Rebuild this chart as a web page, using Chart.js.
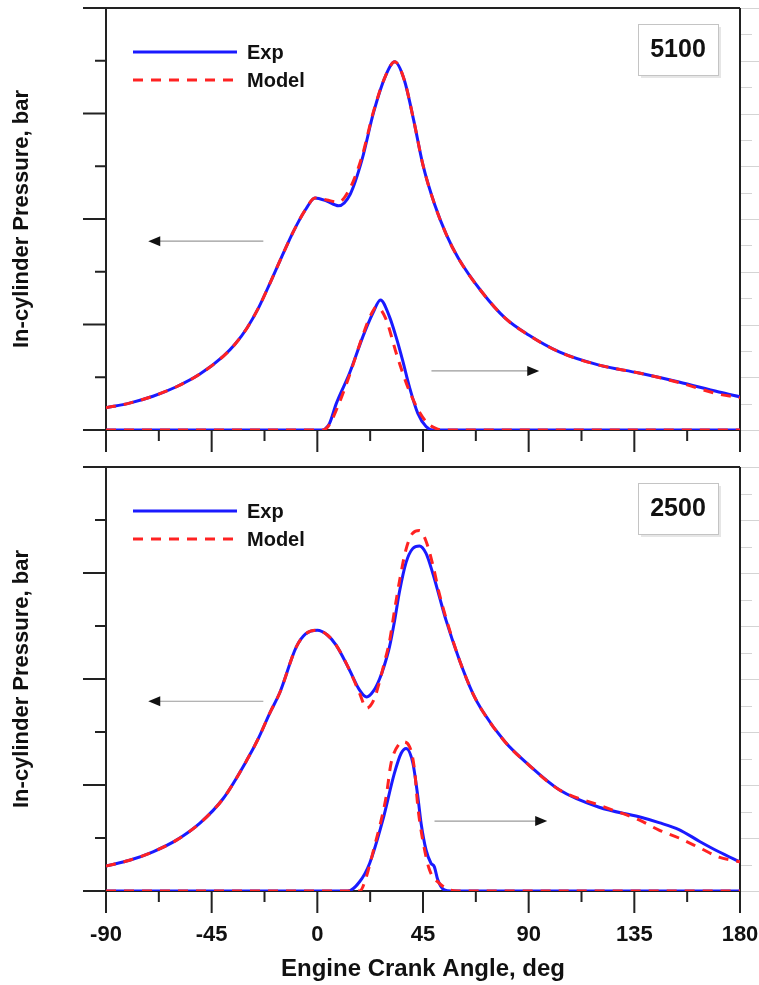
<!DOCTYPE html>
<html>
<head>
<meta charset="utf-8">
<script src="https://cdn.jsdelivr.net/npm/chart.js@4.4.0/dist/chart.umd.min.js"></script>
<style>
  html, body { margin: 0; padding: 0; background: #fff; }
  #wrap { position: relative; width: 759px; height: 985px; }
  .panel { position: absolute; left: 0; width: 759px; }
  #boxTop { top: 0; height: 460px; }
  #boxBottom { top: 460px; height: 525px; }
</style>
</head>
<body>
<div id="wrap">
  <div class="panel" id="boxTop"><canvas id="chartTop"></canvas></div>
  <div class="panel" id="boxBottom"><canvas id="chartBottom"></canvas></div>
</div>
<script>
// x axis: engine crank angle, deg
const xTicks = [-90, -45, 0, 45, 90, 135, 180];
const legendLabels = ["Exp", "Model"];
const panelLabels = ["5100", "2500"];

// ---- 5100 rpm: in-cylinder pressure (left axis) ----
const topPressAngles = [-90, -80, -70, -60, -50, -40, -35, -30, -25, -20, -15, -10, -5, -1, 4, 9, 14, 19, 24, 29, 33, 37, 41, 45, 50, 55, 60, 70, 80, 90, 103, 120, 137, 154, 171, 180];
const topPressExp = [4.2, 5.1, 6.4, 8.2, 10.6, 14.0, 16.3, 19.3, 23.2, 28.0, 33.0, 37.8, 41.8, 44.0, 43.4, 42.5, 44.7, 51.2, 60.3, 67.1, 69.8, 66.4, 58.8, 50.2, 42.7, 37.0, 32.6, 26.2, 21.2, 18.0, 14.8, 12.3, 10.8, 9.1, 7.2, 6.3];
const topPressModel = [4.2, 5.1, 6.4, 8.2, 10.6, 14.0, 16.3, 19.3, 23.2, 28.0, 33.0, 37.8, 41.8, 44.0, 43.6, 43.2, 45.9, 51.8, 60.5, 67.1, 69.8, 66.4, 58.8, 50.2, 42.7, 37.0, 32.6, 26.2, 21.2, 18.0, 14.8, 12.3, 10.8, 9.0, 6.8, 6.1];

// ---- 5100 rpm: heat release rate (right axis) ----
const topHrrAnglesExp = [-90, 2.3, 3.6, 5.2, 8.1, 13.7, 19.4, 23.6, 26.9, 30.7, 33.5, 36.3, 39.2, 42.8, 46.3, 49.1, 180];
const topHrrExp = [0, 0, 0.6, 2.5, 10.1, 21.5, 35.4, 44.2, 49.3, 43.0, 35.4, 26.5, 16.4, 6.3, 1.3, 0, 0];
const topHrrAnglesModel = [-90, 2.3, 3.8, 5.5, 9, 14, 19, 23, 25.2, 29, 34, 38, 43, 47, 50, 53, 180];
const topHrrModel = [0, 0, 0.6, 2.6, 9.5, 21.5, 35.0, 44.0, 46.7, 42.5, 28.0, 17.5, 7.5, 2.5, 0.8, 0, 0];

// ---- 2500 rpm: in-cylinder pressure (left axis) ----
const botPressAngles = [-90, -80, -70, -60, -50, -40, -30, -25, -20, -16, -9, -5, 0, 4, 8, 13.7, 18, 21, 24, 26.5, 28.5, 30.7, 32.9, 35, 37.8, 40.6, 43.5, 46.3, 49.2, 52, 54.8, 60.5, 66.2, 70, 80, 90, 103, 120, 137, 145.5, 154, 163, 171, 180];
const botPressExp = [4.7, 5.8, 7.4, 9.6, 12.8, 17.5, 24.7, 28.9, 33.8, 37.4, 46.0, 48.5, 49.2, 48.4, 46.4, 41.7, 37.9, 36.6, 37.8, 40.0, 42.5, 46.0, 51.0, 56.5, 62.0, 64.6, 65.1, 63.7, 59.9, 55.5, 51.1, 43.6, 37.3, 34.2, 28.1, 23.8, 19.1, 15.8, 14.0, 12.9, 11.6, 9.3, 7.4, 5.5];
const botPressModel = [4.7, 5.8, 7.4, 9.6, 12.8, 17.5, 24.7, 28.9, 33.8, 37.4, 46.0, 48.5, 49.2, 48.4, 46.4, 41.7, 37.3, 34.5, 36.0, 39.5, 43.0, 47.0, 53.0, 58.5, 64.5, 67.5, 68.0, 66.0, 61.5, 56.0, 51.5, 43.6, 37.3, 34.2, 28.1, 23.8, 19.1, 16.2, 13.4, 11.5, 10.0, 8.1, 6.4, 5.5];

// ---- 2500 rpm: heat release rate (right axis) ----
const botHrrAnglesExp = [-90, 10, 13, 18, 22.3, 27.9, 32.8, 35.7, 37.8, 40.7, 42.8, 44.2, 46.3, 48.4, 49.8, 51.3, 54.1, 57, 180];
const botHrrExp = [0, 0, 0, 3.5, 10.5, 26.8, 44.4, 52.0, 53.8, 48.2, 35.6, 25.5, 15.5, 10.5, 9.2, 4.2, 0.4, 0, 0];
const botHrrAnglesModel = [-90, 15, 18, 19.4, 24.3, 29.3, 31.4, 35, 36.4, 39.3, 41.4, 42.8, 44.9, 47.8, 52, 56.3, 60, 180];
const botHrrModel = [0, 0, 0, 1.6, 16.7, 35.6, 48.2, 55.7, 56.3, 54.4, 45.7, 31.8, 19.2, 7.9, 2.9, 0.4, 0, 0];

const FONT = '"Liberation Sans", Arial, sans-serif';
Chart.defaults.font.family = FONT;
Chart.defaults.color = "#111";

function pts(xs, ys) {
    return xs.map((x, i) => ({ x: x, y: ys[i] }));
}

function expSet(data, axis) {
    return {
        data: data, yAxisID: axis, borderColor: "#1a1aff", borderWidth: 3,
        pointRadius: 0, cubicInterpolationMode: "monotone", order: 2
    };
}
function modelSet(data, axis) {
    return {
        data: data, yAxisID: axis, borderColor: "#ff2222", borderWidth: 3, borderDash: [10, 8],
        pointRadius: 0, cubicInterpolationMode: "monotone", order: 1
    };
}

// frame, tick marks, arrows, legend and speed label
const decor = {
    id: "decor",
    beforeDatasetsDraw(chart, args, opts) {
        const ctx = chart.ctx;
        const { left, right, top, bottom } = chart.chartArea;
        const x = chart.scales.x, y = chart.scales.y, y2 = chart.scales.y2;
        ctx.save();
        // faint right-hand ticks
        ctx.strokeStyle = "#d4d4d4";
        ctx.lineWidth = 1;
        for (let v = 0; v <= 160; v += 10) {
            const py = Math.round(y2.getPixelForValue(v)) + 0.5;
            ctx.beginPath();
            ctx.moveTo(right, py);
            ctx.lineTo(right + (v % 20 === 0 ? 19 : 12), py);
            ctx.stroke();
        }
        ctx.strokeStyle = "#222";
        ctx.lineWidth = 2;
        ctx.beginPath();
        ctx.moveTo(left - 23, top); ctx.lineTo(right, top);
        ctx.moveTo(left - 23, bottom); ctx.lineTo(right, bottom);
        ctx.moveTo(left, top); ctx.lineTo(left, bottom);
        ctx.moveTo(right, top); ctx.lineTo(right, bottom);
        for (let v = 0; v <= 80; v += 10) {
            const py = y.getPixelForValue(v);
            ctx.moveTo(left - (v % 20 === 0 ? 23 : 11), py);
            ctx.lineTo(left, py);
        }
        for (let a = -90; a <= 180; a += 22.5) {
            const px = x.getPixelForValue(a);
            ctx.moveTo(px, bottom);
            ctx.lineTo(px, bottom + (a % 45 === 0 ? 22 : 11));
        }
        ctx.stroke();
        // arrows pointing to the axis each curve belongs to
        for (const ar of opts.arrows) {
            const sc = chart.scales[ar.axis];
            const py = sc.getPixelForValue(ar.y);
            const x1 = x.getPixelForValue(ar.from), x2 = x.getPixelForValue(ar.to);
            const dir = x2 > x1 ? 1 : -1;
            ctx.strokeStyle = "#9a9a9a";
            ctx.lineWidth = 1.2;
            ctx.beginPath();
            ctx.moveTo(x1, py); ctx.lineTo(x2 - dir * 10, py);
            ctx.stroke();
            ctx.fillStyle = "#111";
            ctx.beginPath();
            ctx.moveTo(x2, py);
            ctx.lineTo(x2 - dir * 12, py - 5);
            ctx.lineTo(x2 - dir * 12, py + 5);
            ctx.closePath();
            ctx.fill();
        }
        ctx.restore();
    },
    afterDraw(chart, args, opts) {
        const ctx = chart.ctx;
        const { right, top, left } = chart.chartArea;
        const ds = chart.data.datasets;
        ctx.save();
        // legend
        ctx.font = "bold 20px " + FONT;
        ctx.textBaseline = "middle";
        for (let i = 0; i < 2; i++) {
            const ly = top + 44 + i * 28;
            ctx.strokeStyle = ds[i].borderColor;
            ctx.lineWidth = 3;
            ctx.setLineDash(ds[i].borderDash || []);
            ctx.beginPath();
            ctx.moveTo(left + 27, ly);
            ctx.lineTo(left + 131, ly);
            ctx.stroke();
            ctx.setLineDash([]);
            ctx.fillStyle = "#111";
            ctx.fillText(legendLabels[i], left + 141, ly + 1);
        }
        // speed label box
        const bx = right - 102, by = top + 16, bw = 80, bh = 51;
        ctx.fillStyle = "#e6e6e6";
        ctx.fillRect(bx + 3, by + 3, bw, bh);
        ctx.fillStyle = "#fff";
        ctx.fillRect(bx, by, bw, bh);
        ctx.strokeStyle = "#c4c4c4";
        ctx.lineWidth = 1;
        ctx.strokeRect(bx + 0.5, by + 0.5, bw, bh);
        ctx.fillStyle = "#111";
        ctx.font = "bold 25px " + FONT;
        ctx.textAlign = "center";
        ctx.fillText(opts.label, bx + bw / 2, by + bh / 2 + 1);
        ctx.restore();
    }
};

function makeChart(id, datasets, label, arrows, showX, padTop) {
    return new Chart(document.getElementById(id), {
        type: "line",
        data: { datasets: datasets },
        options: {
            responsive: true,
            maintainAspectRatio: false,
            animation: false,
            layout: { padding: { top: padTop, right: 19, bottom: 0, left: 0 } },
            plugins: {
                legend: { display: false },
                tooltip: { enabled: false },
                decor: { label: label, arrows: arrows }
            },
            scales: {
                x: {
                    type: "linear", min: -90, max: 180,
                    grid: { display: false, drawTicks: false },
                    border: { display: false },
                    afterBuildTicks: s => { s.ticks = xTicks.map(v => ({ value: v })); },
                    ticks: { display: showX, padding: 31, font: { size: 22, weight: "bold" }, color: "#111" },
                    title: {
                        display: showX, text: "Engine Crank Angle, deg",
                        font: { size: 24, weight: "bold" }, color: "#111",
                        padding: { top: 0, bottom: 1 }
                    },
                    afterFit: s => {
                        s.height = showX ? 94 : 30;
                        s.paddingLeft = 0;
                        s.paddingRight = 0;
                    }
                },
                y: {
                    position: "left", min: 0, max: 80,
                    grid: { display: false, drawTicks: false },
                    border: { display: false },
                    ticks: { display: false },
                    title: {
                        display: true, text: "In-cylinder Pressure, bar",
                        font: { size: 22, weight: "bold" }, color: "#111",
                        padding: { top: 9, bottom: 0 }
                    },
                    afterFit: s => { s.width = 106; }
                },
                y2: { position: "right", min: 0, max: 160, display: false }
            }
        },
        plugins: [decor]
    });
}

makeChart("chartTop", [
    expSet(pts(topPressAngles, topPressExp), "y"),
    modelSet(pts(topPressAngles, topPressModel), "y"),
    expSet(pts(topHrrAnglesExp, topHrrExp), "y2"),
    modelSet(pts(topHrrAnglesModel, topHrrModel), "y2")
], panelLabels[0], [
    { axis: "y", from: -23, to: -72, y: 35.8 },
    { axis: "y2", from: 48.6, to: 94.5, y: 22.4 }
], false, 8);

makeChart("chartBottom", [
    expSet(pts(botPressAngles, botPressExp), "y"),
    modelSet(pts(botPressAngles, botPressModel), "y"),
    expSet(pts(botHrrAnglesExp, botHrrExp), "y2"),
    modelSet(pts(botHrrAnglesModel, botHrrModel), "y2")
], panelLabels[1], [
    { axis: "y", from: -23, to: -72, y: 35.8 },
    { axis: "y2", from: 49.9, to: 97.9, y: 26.4 }
], true, 7);
</script>
</body>
</html>
